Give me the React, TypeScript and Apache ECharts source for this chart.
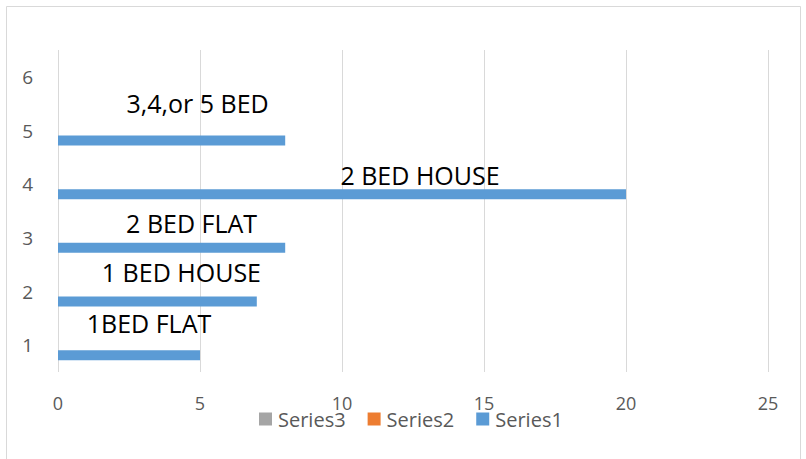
import React, { useEffect, useRef } from "react";
import * as echarts from "echarts";

const categories = ["1", "2", "3", "4", "5", "6"];
const series1 = [5, 7, 8, 20, 8, null];
const series2 = [null, null, null, null, null, null];
const series3 = [null, null, null, null, null, null];
const barLabels = ["1BED FLAT", "1 BED HOUSE", "2 BED FLAT", "2 BED HOUSE", "3,4,or 5 BED", ""];
const labelOffsets = [
  [20, -32],
  [24, -30],
  [20, -25],
  [78, -19],
  [26, -38],
  [0, 0],
];

export default function App() {
  const ref = useRef<HTMLDivElement>(null);
  useEffect(() => {
    if (!ref.current) return;
    const chart = echarts.init(ref.current, null, { renderer: "svg" });
    const font = "'Open Sans', 'Noto Sans', sans-serif";
    chart.setOption({
      animation: false,
      backgroundColor: "#ffffff",
      textStyle: { fontFamily: font },
      graphic: [
        {
          type: "rect",
          shape: { x: 6.5, y: 6.5, width: 794, height: 480 },
          style: { fill: "none", stroke: "#d9d9d9", lineWidth: 1 },
          silent: true,
        },
      ],
      grid: { left: 58, right: 38, top: 50, bottom: 87, containLabel: false },
      legend: {
        data: ["Series3", "Series2", "Series1"],
        left: 254,
        top: 404,
        itemWidth: 13,
        itemHeight: 13,
        itemGap: 22,
        icon: "rect",
        textStyle: { fontSize: 20, color: "#595959", fontFamily: font, padding: [0, 0, 0, 1] },
      },
      xAxis: {
        type: "value",
        min: 0,
        max: 25,
        interval: 5,
        axisLine: { show: false },
        axisTick: { show: false },
        splitLine: { show: true, lineStyle: { color: "#d9d9d9", width: 1 } },
        axisLabel: { fontSize: 18, color: "#595959", margin: 22, fontFamily: font },
      },
      yAxis: {
        type: "category",
        data: categories,
        axisLine: { show: false },
        axisTick: { show: false },
        splitLine: { show: false },
        axisLabel: { fontSize: 19, color: "#595959", margin: 25, fontFamily: font },
      },
      series: [
        {
          name: "Series3",
          type: "bar",
          barWidth: 10,
          barGap: "0%",
          itemStyle: { color: "#a5a5a5" },
          data: series3,
        },
        {
          name: "Series2",
          type: "bar",
          barWidth: 10,
          barGap: "0%",
          itemStyle: { color: "#ed7d31" },
          data: series2,
        },
        {
          name: "Series1",
          type: "bar",
          barWidth: 10,
          barGap: "0%",
          itemStyle: { color: "#5b9bd5" },
          data: series1.map((v, i) => ({
            value: v,
            label: {
              show: v != null,
              position: "inside",
              formatter: barLabels[i],
              offset: labelOffsets[i],
              fontSize: 25,
              color: "#000000",
              fontFamily: font,
            },
          })),
        },
      ],
    });
    return () => chart.dispose();
  }, []);
  return (
    <div
      ref={ref}
      style={{ position: "absolute", left: 0, top: 0, width: 806, height: 459 }}
    />
  );
}
